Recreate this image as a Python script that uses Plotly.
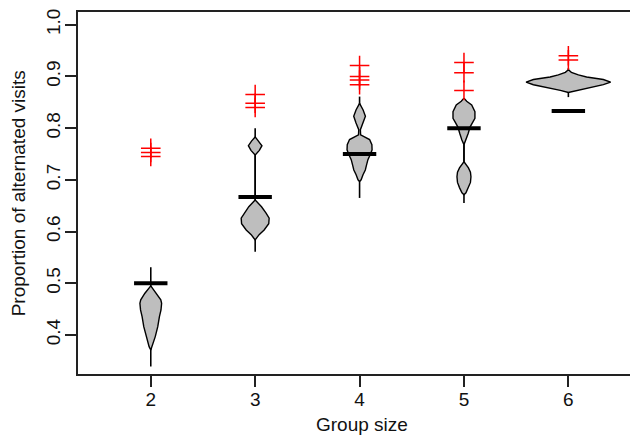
import plotly.graph_objects as go

# ---------------- data ----------------
group_sizes = [2, 3, 4, 5, 6]
expected = [0.5, 0.667, 0.75, 0.8, 0.833]

# observed values (red crosses)
obs_g2 = [0.761, 0.753, 0.745]
obs_g3 = [0.865, 0.848, 0.840]
obs_g4 = [0.921, 0.900, 0.893, 0.884]
obs_g5 = [0.927, 0.907, 0.873]
obs_g6 = [0.940, 0.932]

# whisker (range) of each simulated distribution
range_low = [0.339, 0.561, 0.665, 0.655, 0.860]
range_high = [0.531, 0.800, 0.861, 0.858, 0.916]

# violin profiles: y levels and half-widths (in x units)
viol_g2_y = [0.495, 0.4904, 0.4807, 0.4678, 0.4614, 0.4484, 0.4355, 0.4161, 0.3968, 0.3774, 0.371]
viol_g2_w = [0.0, 0.016, 0.056, 0.096, 0.104, 0.098, 0.083, 0.067, 0.043, 0.016, 0.0]

viol_g3_y = [0.783, 0.775, 0.766, 0.757, 0.748, 0.661, 0.648, 0.636, 0.626, 0.615, 0.603, 0.594, 0.588, 0.584]
viol_g3_w = [0.0, 0.035, 0.065, 0.040, 0.0, 0.0, 0.061, 0.103, 0.134, 0.130, 0.086, 0.038, 0.016, 0.0]

viol_g4_y = [0.848, 0.835, 0.823, 0.810, 0.797, 0.787, 0.778, 0.768, 0.758, 0.750, 0.739, 0.729, 0.719, 0.710, 0.700, 0.697]
viol_g4_w = [0.0, 0.034, 0.056, 0.034, 0.008, 0.010, 0.096, 0.118, 0.120, 0.105, 0.080, 0.067, 0.055, 0.033, 0.015, 0.0]

viol_g5_y = [0.858, 0.852, 0.845, 0.832, 0.819, 0.810, 0.802, 0.790, 0.777, 0.768,
             0.735, 0.723, 0.715, 0.706, 0.695, 0.685, 0.675, 0.671]
viol_g5_w = [0.0, 0.026, 0.074, 0.105, 0.105, 0.080, 0.058, 0.041, 0.020, 0.0,
             0.0, 0.043, 0.062, 0.067, 0.062, 0.043, 0.019, 0.0]

viol_g6_y = [0.913, 0.908, 0.903, 0.899, 0.894, 0.889, 0.884, 0.877, 0.873, 0.869]
viol_g6_w = [0.0, 0.029, 0.096, 0.175, 0.335, 0.405, 0.335, 0.175, 0.077, 0.0]

y_ticks = [0.4, 0.5, 0.6, 0.7, 0.8, 0.9, 1.0]
y_tick_labels = ["0.4", "0.5", "0.6", "0.7", "0.8", "0.9", "1.0"]

# ---------------- figure ----------------
observed = [obs_g2, obs_g3, obs_g4, obs_g5, obs_g6]
profiles = [(viol_g2_y, viol_g2_w), (viol_g3_y, viol_g3_w), (viol_g4_y, viol_g4_w),
            (viol_g5_y, viol_g5_w), (viol_g6_y, viol_g6_w)]

bar_half = 0.16
fig = go.Figure()

for g, lo, hi, (vy, vw) in zip(group_sizes, range_low, range_high, profiles):
    # whisker line
    fig.add_trace(go.Scatter(x=[g, g], y=[lo, hi], mode="lines",
                             line=dict(color="black", width=1.6),
                             showlegend=False, hoverinfo="skip"))
    # violin polygon
    xs = [g + w for w in vw] + [g - w for w in reversed(vw)]
    ys = list(vy) + list(reversed(vy))
    fig.add_trace(go.Scatter(x=xs, y=ys, mode="lines", fill="toself",
                             fillcolor="#BEBEBE",
                             line=dict(color="black", width=1.4),
                             showlegend=False, hoverinfo="skip"))

for g, e in zip(group_sizes, expected):
    fig.add_trace(go.Scatter(x=[g - bar_half, g + bar_half], y=[e, e], mode="lines",
                             line=dict(color="black", width=4),
                             showlegend=False, hoverinfo="skip"))

for g, obs in zip(group_sizes, observed):
    fig.add_trace(go.Scatter(x=[g] * len(obs), y=obs, mode="markers",
                             marker=dict(symbol="cross-thin", size=14,
                                         line=dict(color="#FF0000", width=1.5)),
                             showlegend=False, hoverinfo="skip"))

axis_color = "#222222"
fig.update_layout(
    width=630, height=427,
    margin=dict(l=70, r=0, t=4, b=61),
    paper_bgcolor="white", plot_bgcolor="white",
    font=dict(family="Liberation Sans, Arial, sans-serif", size=19, color="#111111"),
    xaxis=dict(range=[1.303, 6.667], tickvals=group_sizes,
               ticktext=[str(g) for g in group_sizes],
               showgrid=False, zeroline=False,
               showline=True, linecolor=axis_color, linewidth=1.6, mirror=True,
               ticks="outside", ticklen=11, tickwidth=1.5, tickcolor=axis_color,
               ticklabelstandoff=-4, tickfont=dict(size=19)),
    yaxis=dict(range=[0.3245, 1.0246], tickvals=y_ticks, ticktext=y_tick_labels,
               showgrid=False, zeroline=False,
               showline=True, linecolor=axis_color, linewidth=1.6,
               ticks="outside", ticklen=11, tickwidth=1.5, tickcolor=axis_color,
               ticklabelstandoff=-2, tickangle=-90, tickfont=dict(size=19)),
    annotations=[
        dict(text="Group size", xref="paper", yref="paper", x=0.5066, y=-0.105,
             xanchor="center", yanchor="top", showarrow=False, font=dict(size=19)),
        dict(text="Proportion of alternated visits", xref="paper", yref="paper",
             x=-0.1066, y=0.5, xanchor="center", yanchor="middle", textangle=-90,
             showarrow=False, font=dict(size=19)),
    ],
)

fig.write_html("out.html")
